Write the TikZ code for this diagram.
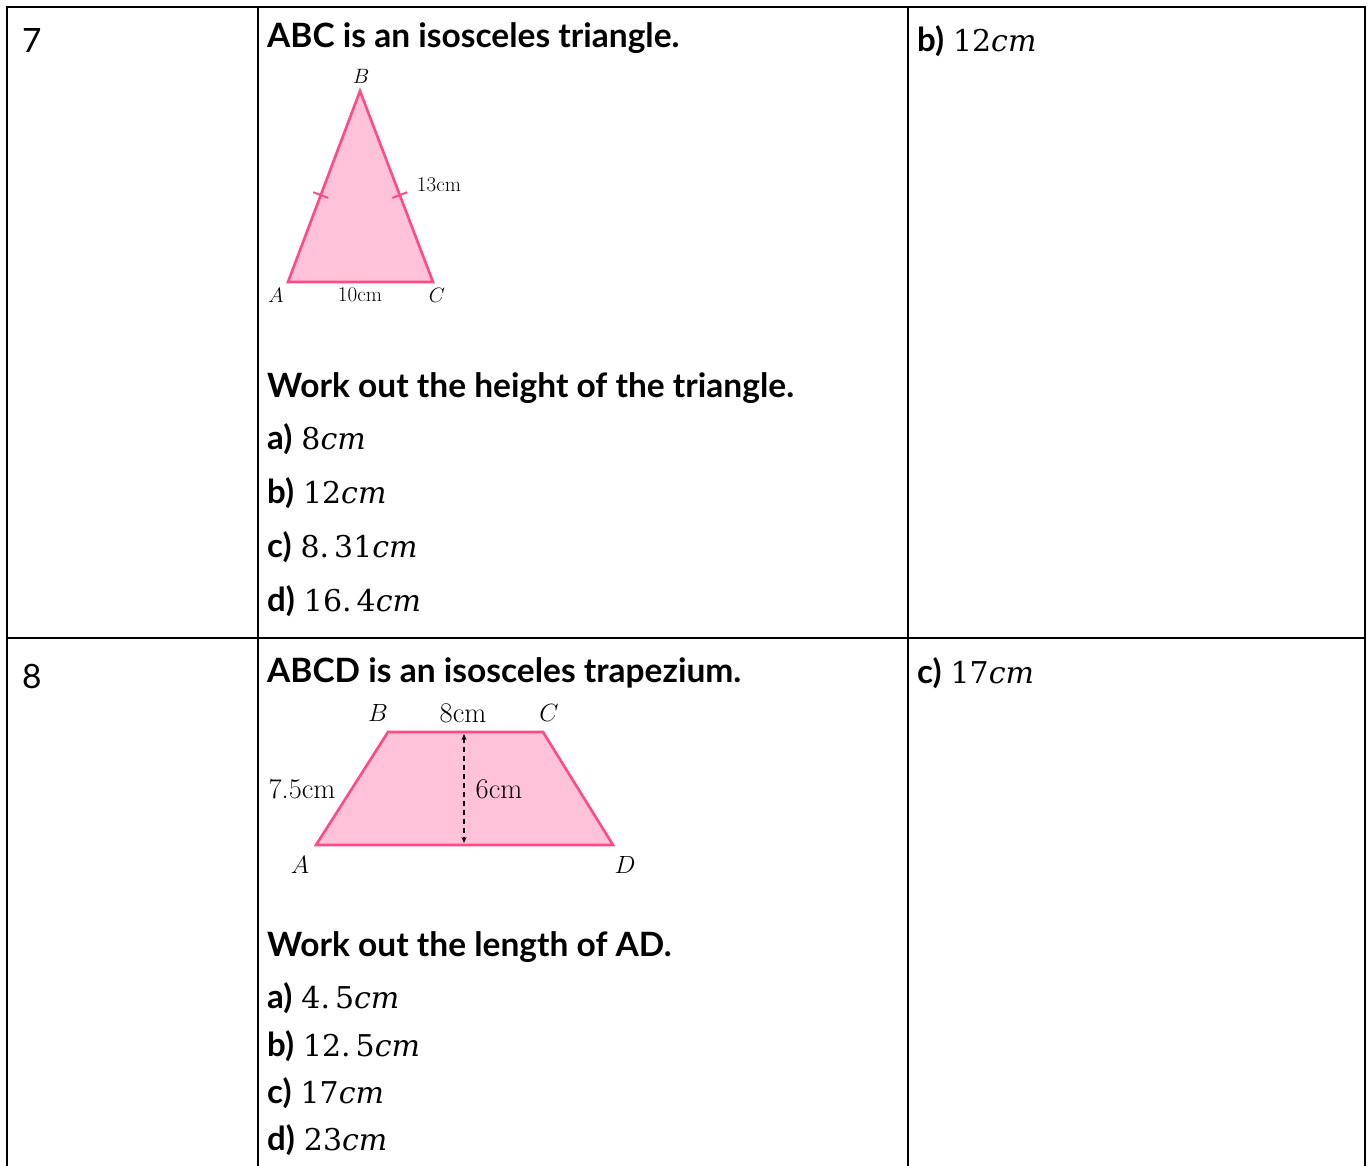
\documentclass[tikz,border=0pt]{standalone}
\usepackage{fontspec}
\newfontfamily\qfont{Lato}
\newfontfamily\mfont{DejaVu Serif}
\usetikzlibrary{arrows.meta,calc}
\definecolor{shapefill}{HTML}{FFC2D8}
\definecolor{shapeline}{HTML}{FF4A86}
\tikzset{
  tablegrid/.style={line width=2.6pt, black},
  qnum/.style={anchor=base west, inner sep=0pt, font=\qfont\fontsize{33.5}{36}\selectfont},
  qtext/.style={anchor=base west, inner sep=0pt, font=\qfont\bfseries\fontsize{33.5}{36}\selectfont},
  qans/.style={anchor=base west, inner sep=0pt, font=\qfont\bfseries\fontsize{33}{36}\selectfont},
  pinkshape/.style={fill=shapefill, draw=shapeline, line width=2.6pt, line join=miter},
  tickmark/.style={draw=shapeline, line width=2pt},
  lblS/.style={inner sep=0pt, font=\fontsize{21}{24}\selectfont},
  lblL/.style={inner sep=0pt, font=\fontsize{28.5}{32}\selectfont},
}
\newcommand{\ansv}[1]{\hspace{9pt}{\mfont\mdseries\fontsize{30}{34}\selectfont #1}}
\begin{document}
\begin{tikzpicture}[x=1pt,y=-1pt]
\useasboundingbox (0,0) rectangle (1368,1166);
% table
\draw[tablegrid] (7,1168) -- (7,7) -- (1365,7) -- (1365,1168);
\draw[tablegrid] (7,638) -- (1365,638);
\draw[tablegrid] (258,7) -- (258,1168);
\draw[tablegrid] (908,7) -- (908,1168);
% question 7
\node[qnum] (n7) at (22,53) {7};
\node[qtext] (t7) at (267,48) {ABC is an isosceles triangle.};
\coordinate (A) at (288,282);
\coordinate (B) at (360,91);
\coordinate (C) at (433,282);
\draw[pinkshape] (A) -- (B) -- (C) -- cycle;
\coordinate (mAB) at ($(A)!0.455!(B)$);
\coordinate (mCB) at ($(C)!0.455!(B)$);
\draw[tickmark] ($(mAB)!8pt!90:(B)$) -- ($(mAB)!8pt!-90:(B)$);
\draw[tickmark] ($(mCB)!8pt!90:(B)$) -- ($(mCB)!8pt!-90:(B)$);
\node[lblS] (lB) at (361,76) {$B$};
\node[lblS] (lA) at (276,295) {$A$};
\node[lblS] (lC) at (437,295) {$C$};
\node[lblS] (l13) at (439,185) {13cm};
\node[lblS] (l10) at (360,295) {10cm};
\node[qtext] (w7) at (267,397) {Work out the height of the triangle.};
\node[qans] (a7) at (267,449) {a)\ansv{8\textit{cm}}};
\node[qans] (b7) at (267,503) {b)\ansv{12\textit{cm}}};
\node[qans] (c7) at (267,557) {c)\ansv{8.\,31\textit{cm}}};
\node[qans] (d7) at (267,611) {d)\ansv{16.\,4\textit{cm}}};
\node[qans] (r7) at (917,52) {b)\ansv{12\textit{cm}}};
% question 8
\node[qnum] (n8) at (22,688) {8};
\node[qtext] (t8) at (267,682) {ABCD is an isosceles trapezium.};
\coordinate (PA) at (316,845);
\coordinate (PB) at (388,732);
\coordinate (PC) at (543,732);
\coordinate (PD) at (613,845);
\draw[pinkshape] (PA) -- (PB) -- (PC) -- (PD) -- cycle;
\coordinate (hT) at (464,734);
\coordinate (hB) at (464,843);
\draw[dashed, line width=1.1pt, dash pattern=on 5pt off 4pt, {Stealth[length=6pt,width=5pt]}-{Stealth[length=6pt,width=5pt]}] (hT) -- (hB);
\node[lblL] (qB) at (378,713) {$B$};
\node[lblL] (qC) at (549,713) {$C$};
\node[lblL] (qA) at (300,865) {$A$};
\node[lblL] (qD) at (625,865) {$D$};
\node[lblL] (q8) at (463,713) {8cm};
\node[lblL] (q75) at (302,789) {7.5cm};
\node[lblL] (q6) at (499,789) {6cm};
\node[qtext] (w8) at (267,956) {Work out the length of AD.};
\node[qans] (a8) at (267,1008) {a)\ansv{4.\,5\textit{cm}}};
\node[qans] (b8) at (267,1056) {b)\ansv{12.\,5\textit{cm}}};
\node[qans] (c8) at (267,1103) {c)\ansv{17\textit{cm}}};
\node[qans] (d8) at (267,1150) {d)\ansv{23\textit{cm}}};
\node[qans] (r8) at (917,683) {c)\ansv{17\textit{cm}}};
\end{tikzpicture}
\end{document}
